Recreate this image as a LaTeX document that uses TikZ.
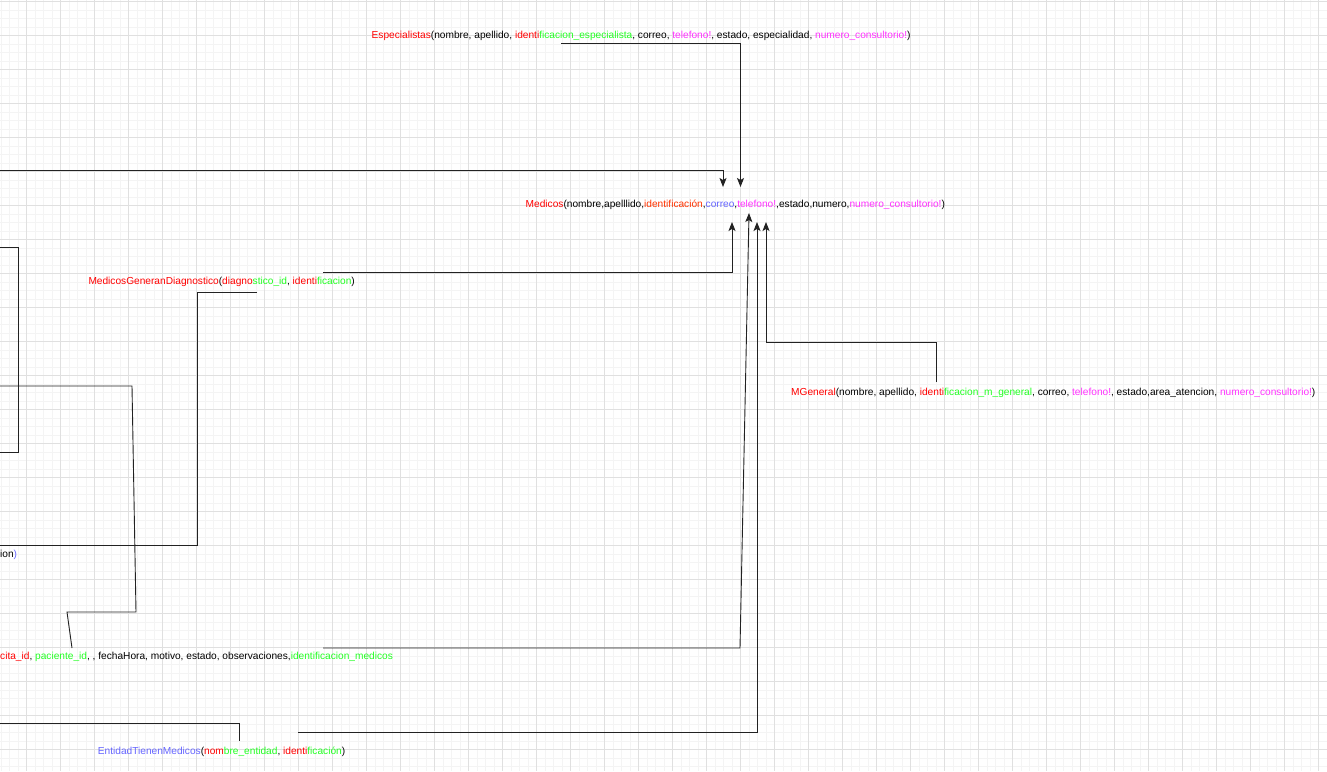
\documentclass[tikz,border=0pt]{standalone}
\usepackage{fontspec}
\setmainfont{Liberation Sans}
\usetikzlibrary{arrows.meta}

\definecolor{kred}{HTML}{FF0000}
\definecolor{kgreen}{HTML}{22FF22}
\definecolor{kmag}{HTML}{FF33FF}
\definecolor{kblue}{HTML}{6666FF}
\definecolor{korange}{HTML}{FF3300}
\definecolor{gminor}{HTML}{F4F4F4}
\definecolor{gmajor}{HTML}{E0E0E0}
\definecolor{wire}{HTML}{222222}

\newcommand{\rd}[1]{\textcolor{kred}{#1}}
\newcommand{\gr}[1]{\textcolor{kgreen}{#1}}
\newcommand{\mg}[1]{\textcolor{kmag}{#1}}
\newcommand{\bl}[1]{\textcolor{kblue}{#1}}
\newcommand{\orr}[1]{\textcolor{korange}{#1}}

\tikzset{
  rel/.style={inner sep=0pt, anchor=base west, font=\fontsize{10.15}{12}\selectfont},
  relend/.style={rel, anchor=base east},
  wireline/.style={draw=wire, line width=0.9pt},
  arrowline/.style={wireline, -{Stealth[length=9pt,width=7pt,inset=2pt]}},
}

\begin{document}
\begin{tikzpicture}[x=1pt,y=-1pt]
  \useasboundingbox (0,0) rectangle (1327,771);
  \fill[white] (0,0) rectangle (1327,771);

  % background grid
  \begin{scope}
    \clip (0,0) rectangle (1327,771);
    \foreach \i in {0,...,157} {
      \draw[gminor, line width=0.6pt] ({1.2+8.5*\i},0) -- ({1.2+8.5*\i},771);
    }
    \foreach \i in {0,...,91} {
      \draw[gminor, line width=0.6pt] (0,{1.3+8.5*\i}) -- (1327,{1.3+8.5*\i});
    }
    \foreach \i in {-1,...,39} {
      \draw[gmajor, line width=0.8pt] ({26.7+34*\i},0) -- ({26.7+34*\i},771);
    }
    \foreach \i in {0,...,23} {
      \draw[gmajor, line width=0.8pt] (0,{1.3+34*\i}) -- (1327,{1.3+34*\i});
    }
  \end{scope}

  % relations
  \node[rel] (esp) at (371.5,38.3) {\rd{Especialistas}(nombre, apellido, \rd{identi}\gr{ficacion\_especialista}, correo, \mg{telefono!}, estado, especialidad, \mg{numero\_consultorio!})};
  \node[rel] (med) at (525.5,207.8) {\rd{Medicos}(nombre,apelllido,\orr{identificación},\bl{correo},\mg{telefono!},estado,numero,\mg{numero\_consultorio!})};
  \node[rel] (mgd) at (88.3,284.5) {\rd{MedicosGeneranDiagnostico}(\rd{diagno}\gr{stico\_id}, \rd{identi}\gr{ficacion})};
  \node[rel] (mgen) at (791,395.5) {\rd{MGeneral}(nombre, apellido, \rd{identi}\gr{ficacion\_m\_general}, correo, \mg{telefono!}, estado,area\_atencion, \mg{numero\_consultorio!})};
  \node[rel] (cita) at (0,659.8) {\rd{cita\_id}, \gr{paciente\_id}, , fechaHora, motivo, estado, observaciones,\gr{identificacion\_medicos}};
  \node[relend] (diag) at (17.3,557) {ion\bl{)}};
  \node[rel] (ent) at (97.7,754.5) {\bl{EntidadTienenMedicos}(\rd{nom}\gr{bre\_entidad}, \rd{identi}\gr{ficación})};

  % arrow tips at the Medicos relation
  \coordinate (tA) at (723,187);
  \coordinate (tB) at (740.5,187);
  \coordinate (uA) at (732,222);
  \coordinate (uB) at (749,213);
  \coordinate (uC) at (757,222);
  \coordinate (uD) at (766,222);

  % free ends and bend points
  \coordinate (espOut) at (561,43);
  \coordinate (leftTop) at (0,170.5);
  \coordinate (mgdOut) at (323,272);
  \coordinate (mgdIn) at (257,292.5);
  \coordinate (diagEnd) at (0,545);
  \coordinate (bracketA) at (0,247);
  \coordinate (bracketB) at (0,452);
  \coordinate (citaFrom) at (0,386);
  \coordinate (citaIn) at (72,648);
  \coordinate (citaOut) at (323,648);
  \coordinate (entOut) at (298,732);
  \coordinate (entIn) at (239,741);
  \coordinate (entEnd) at (0,723);
  \coordinate (mgenOut) at (936,382);

  % connectors into Medicos
  \draw[arrowline] (espOut) -- (740.5,43) -- (tB);
  \draw[arrowline] (leftTop) -- (723,170.5) -- (tA);
  \draw[arrowline] (mgdOut) -- (732,272) -- (uA);
  \draw[arrowline] (citaOut) -- (740,648) -- (uB);
  \draw[arrowline] (entOut) -- (757,732) -- (uC);
  \draw[arrowline] (mgenOut) -- (936,342) -- (766,342) -- (uD);

  % other connectors
  \draw[wireline] (mgdIn) -- (197,292.5) -- (197,545) -- (diagEnd);
  \draw[wireline] (bracketA) -- (18,247) -- (18,452) -- (bracketB);
  \draw[wireline] (citaFrom) -- (132,386) -- (136,612) -- (67,612) -- (citaIn);
  \draw[wireline] (entIn) -- (239,723) -- (entEnd);
\end{tikzpicture}
\end{document}
